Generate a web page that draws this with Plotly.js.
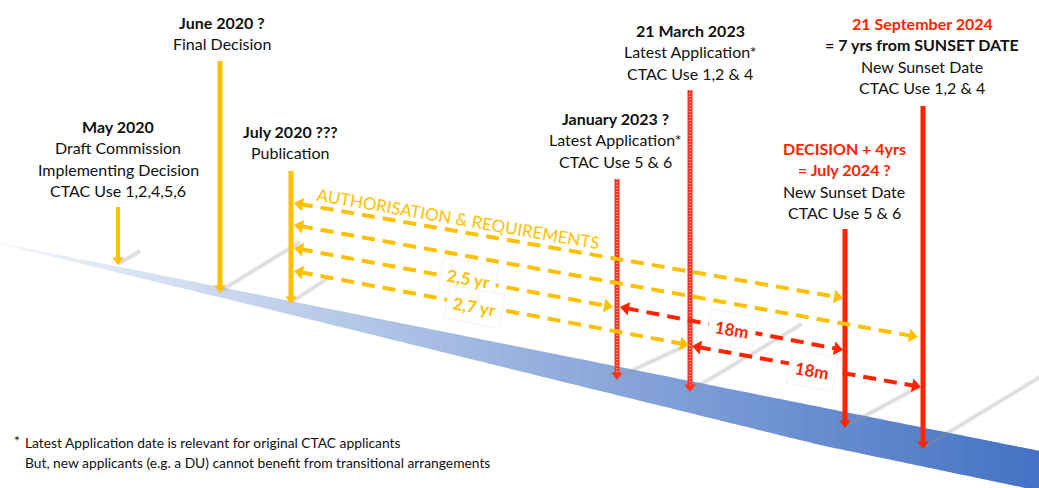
<!DOCTYPE html>
<html><head><meta charset="utf-8">
<script src="https://cdn.plot.ly/plotly-3.0.1.min.js"></script>
<style>html,body{margin:0;padding:0;background:#fff;}#chart{width:1039px;height:488px;}</style>
</head><body><div id="chart"></div>
<script>
// ---------- data ----------
const milestoneTitle = ['May 2020', 'June 2020 ?', 'July 2020 ???', 'January 2023 ?', '21 March 2023', 'DECISION + 4yrs', '21 September 2024'];
const milestoneNote = ['', '', '', '', '', '= July 2024 ?', '= 7 yrs from SUNSET DATE'];
const milestoneText = [
  ['Draft Commission', 'Implementing Decision', 'CTAC Use 1,2,4,5,6'],
  ['Final Decision'],
  ['Publication'],
  ['Latest Application*', 'CTAC Use 5 & 6'],
  ['Latest Application*', 'CTAC Use 1,2 & 4'],
  ['New Sunset Date', 'CTAC Use 5 & 6'],
  ['New Sunset Date', 'CTAC Use 1,2 & 4']
];
const milestoneX = [118, 220, 291, 617, 690, 845, 923];
const milestoneTop = [207, 61, 171, 179, 90, 229, 106];
const milestoneBase = [265, 293, 304, 380, 392, 428, 449];
const labelX = [118, 222, 290, 615, 690, 844, 922];
const labelY = [126, 22, 131, 118, 30, 148, 23];
const milestoneKind = ['draft', 'decision', 'decision', 'appl', 'appl', 'sunset', 'sunset'];

const spanX0 = [294, 294, 294, 294, 620, 692];
const spanY0 = [203, 225, 248, 271, 307, 346];
const spanX1 = [843, 918, 613, 689, 843, 921];
const spanY1 = [298, 337, 307, 345, 350, 387];
const spanKind = ['auth', 'auth', 'auth', 'auth', 'gap', 'gap'];

const spanLabel = ['AUTHORISATION & REQUIREMENTS', '2,5 yr', '2,7 yr', '18m', '18m'];
const spanLabelX = [458, 468, 474, 732, 812];
const spanLabelY = [218, 278, 306, 329, 370];

const shadowX0 = [118, 222, 293, 620, 693, 848, 926];
const shadowY0 = [264, 290, 301, 376, 389, 425, 446];
const shadowX1 = [140, 300, 330, 685, 802, 913, 1045];
const shadowY1 = [251, 242, 277, 346, 324, 390, 374];

const footnote = ['Latest Application date is relevant for original CTAC applicants',
                  'But, new applicants (e.g. a DU) cannot benefit from transitional arrangements'];

// ---------- styles ----------
const ORANGE = '#FFC000', RED = '#FF2400', TXT = '#111111';
const FONT = 'Lato, "Open Sans", sans-serif';

const traces = [];
const shapes = [];
const annotations = [];

// gradient timeline band
const wPts = [[0, 1], [280, 13], [580, 27], [820, 38], [1039, 40], [1100, 40]];
function bandW(x) {
  for (let i = 0; i < wPts.length - 1; i++) {
    const a = wPts[i], b = wPts[i + 1];
    if (x <= b[0]) return a[1] + (b[1] - a[1]) * (x - a[0]) / (b[0] - a[0]);
  }
  return 40;
}
const N = 90;
for (let i = 0; i < N; i++) {
  const xa = i * 1045 / N, xb = (i + 1) * 1045 / N + 0.6;
  const ta = 243 + 0.2 * xa, tb = 243 + 0.2 * xb;
  const t = ((xa + xb) / 2) / 1039;
  const a = Math.min(1, 0.06 + 0.94 * Math.pow(t, 0.95));
  const r = Math.round(255 - (255 - 68) * a), g = Math.round(255 - (255 - 114) * a), bl = Math.round(255 - (255 - 196) * a);
  shapes.push({type: 'path', xref: 'x', yref: 'y', layer: 'below',
    path: `M${xa},${ta} L${xb},${tb} L${xb},${tb + bandW(xb)} L${xa},${ta + bandW(xa)} Z`,
    fillcolor: `rgb(${r},${g},${bl})`, line: {width: 0}});
}

// shadows
for (let i = 0; i < shadowX0.length; i++) {
  traces.push({x: [shadowX0[i], shadowX1[i]], y: [shadowY0[i], shadowY1[i]], mode: 'lines',
    line: {color: 'rgba(150,150,150,0.18)', width: 5}, hoverinfo: 'skip'});
  traces.push({x: [shadowX0[i], shadowX1[i]], y: [shadowY0[i], shadowY1[i]], mode: 'lines',
    line: {color: 'rgba(150,150,150,0.2)', width: 2}, hoverinfo: 'skip'});
}

// vertical milestone arrows
for (let i = 0; i < milestoneX.length; i++) {
  const k = milestoneKind[i];
  const col = (k === 'appl' || k === 'sunset') ? RED : ORANGE;
  const w = k === 'draft' ? 4 : 5;
  const hs = 10, r = hs / 2;
  const cy = milestoneBase[i] - r;
  traces.push({x: [milestoneX[i], milestoneX[i]], y: [milestoneTop[i], cy], mode: 'lines',
    line: {color: k === 'appl' ? '#ff3322' : col, width: w}, hoverinfo: 'skip'});
  if (k === 'appl') {
    traces.push({x: [milestoneX[i], milestoneX[i]], y: [milestoneTop[i], cy], mode: 'lines',
      line: {color: 'rgba(255,170,160,0.85)', width: 2, dash: '1px,2px'}, hoverinfo: 'skip'});
  }
  traces.push({x: [milestoneX[i]], y: [cy], mode: 'markers',
    marker: {symbol: 'triangle-down', size: hs, color: k === 'appl' ? '#ff3322' : col, line: {width: 0}}, hoverinfo: 'skip'});
}

// dashed double-headed span arrows
for (let i = 0; i < spanX0.length; i++) {
  const col = spanKind[i] === 'gap' ? RED : ORANGE;
  const dx = spanX1[i] - spanX0[i], dy = spanY1[i] - spanY0[i];
  const L = Math.hypot(dx, dy), ux = dx / L, uy = dy / L;
  const hs = 12, r = hs / 2;
  const ang = Math.atan2(dy, dx) * 180 / Math.PI;
  const sx = spanX0[i] + ux * r, sy = spanY0[i] + uy * r;
  const ex = spanX1[i] - ux * r, ey = spanY1[i] - uy * r;
  traces.push({x: [sx, ex], y: [sy, ey], mode: 'lines',
    line: {color: col, width: 4, dash: '13px,8px'}, hoverinfo: 'skip'});
  traces.push({x: [sx, ex], y: [sy, ey], mode: 'markers',
    marker: {symbol: ['triangle-left', 'triangle-right'], angle: [ang, ang], size: hs, color: col, line: {width: 0}},
    hoverinfo: 'skip'});
}

// span labels
for (let i = 0; i < spanLabel.length; i++) {
  const isAuth = i === 0;
  const isGap = spanLabel[i] === '18m';
  annotations.push({x: spanLabelX[i], y: spanLabelY[i], xref: 'x', yref: 'y', showarrow: false,
    text: isAuth ? spanLabel[i] : '<b>' + spanLabel[i] + '</b>', textangle: isAuth ? 9.8 : 10,
    font: {family: FONT, size: isAuth ? 17 : 17, color: isGap ? RED : ORANGE},
    bgcolor: isAuth ? 'rgba(0,0,0,0)' : '#ffffff',
    bordercolor: isAuth ? 'rgba(0,0,0,0)' : 'rgba(238,238,238,0.7)', borderwidth: isAuth ? 0 : 1,
    borderpad: isAuth ? 0 : 6});
}

// milestone labels
const LS = 21.5;
for (let i = 0; i < milestoneTitle.length; i++) {
  const red = milestoneKind[i] === 'sunset';
  let y = labelY[i];
  annotations.push({x: labelX[i], y: y, xref: 'x', yref: 'y', showarrow: false, xanchor: 'center', yanchor: 'middle',
    text: '<b>' + milestoneTitle[i] + '</b>', font: {family: FONT, size: 16, color: red ? RED : TXT}});
  if (milestoneNote[i]) {
    y += LS;
    annotations.push({x: labelX[i], y: y, xref: 'x', yref: 'y', showarrow: false, xanchor: 'center', yanchor: 'middle',
      text: '<b>' + milestoneNote[i] + '</b>', font: {family: FONT, size: 16, color: i === 5 ? RED : TXT}});
  }
  for (const line of milestoneText[i]) {
    y += LS;
    annotations.push({x: labelX[i], y: y, xref: 'x', yref: 'y', showarrow: false, xanchor: 'center', yanchor: 'middle',
      text: line, font: {family: FONT, size: 16, color: TXT}});
  }
}

// footnote
annotations.push({x: 12, y: 440, xref: 'x', yref: 'y', showarrow: false, xanchor: 'left', yanchor: 'middle',
  text: '*', font: {family: FONT, size: 14, color: TXT}});
footnote.forEach((t, j) => annotations.push({x: 23, y: 442 + j * 20, xref: 'x', yref: 'y', showarrow: false,
  xanchor: 'left', yanchor: 'middle', text: t, font: {family: FONT, size: 13.8, color: TXT}}));

const layout = {
  width: 1039, height: 488, margin: {l: 0, r: 0, t: 0, b: 0},
  paper_bgcolor: '#ffffff', plot_bgcolor: '#ffffff', showlegend: false,
  xaxis: {range: [0, 1039], visible: false, fixedrange: true},
  yaxis: {range: [488, 0], visible: false, fixedrange: true},
  shapes: shapes, annotations: annotations
};
Plotly.newPlot('chart', traces, layout, {staticPlot: true, displayModeBar: false});
</script></body></html>
